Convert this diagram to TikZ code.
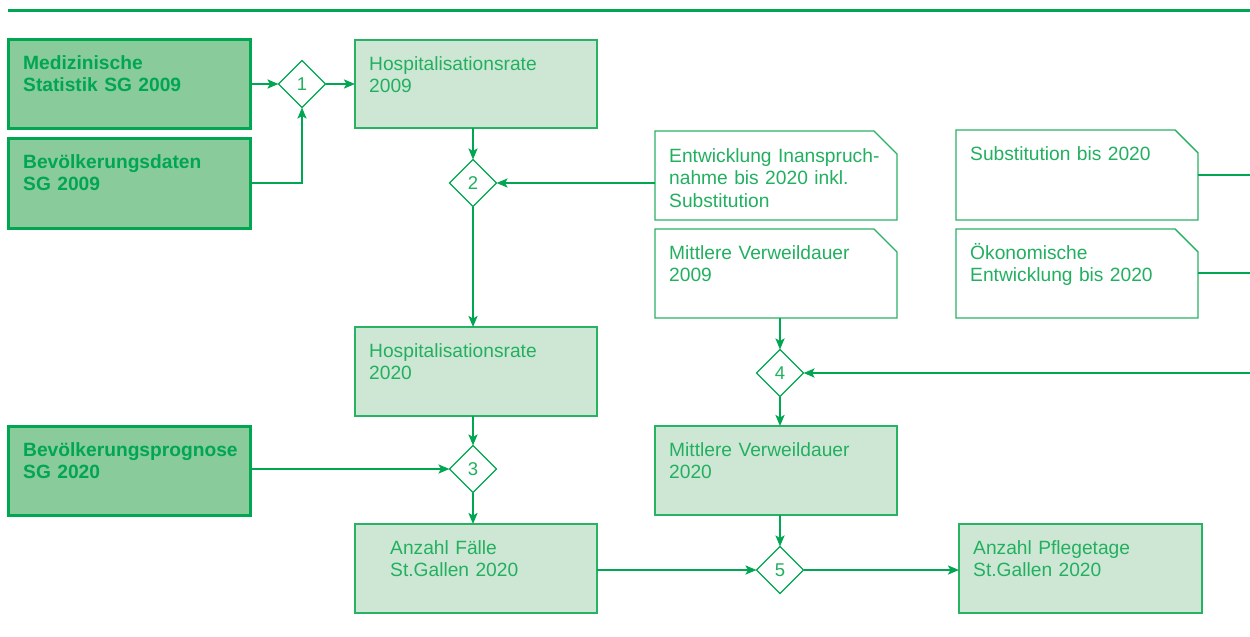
\documentclass[tikz,border=0pt]{standalone}
\usepackage{fontspec}
\setmainfont{Liberation Sans}
\usetikzlibrary{shapes.geometric,arrows.meta}
\definecolor{lgreen}{RGB}{0,166,81}
\definecolor{tgreen}{RGB}{34,176,96}
\definecolor{darkfill}{RGB}{138,203,156}
\definecolor{lightfill}{RGB}{206,231,212}
\definecolor{thinline}{RGB}{40,178,100}
\tikzset{
  boxbase/.style={minimum width=242pt,minimum height=89pt,inner sep=0pt,outer sep=0pt},
  darkbox/.style={boxbase,draw=lgreen,line width=3pt,fill=darkfill},
  lightbox/.style={boxbase,draw=thinline,line width=1.4pt,fill=lightfill},
  notebox/.style={boxbase},
  noteline/.style={draw=thinline,line width=1.4pt,fill=white},
  dia/.style={diamond,aspect=1,minimum size=47pt,inner sep=0pt,outer sep=0pt,draw=lgreen,line width=1.1pt,fill=white,text=tgreen,font=\fontsize{18.5pt}{20pt}\selectfont},
  txt/.style={anchor=base west,inner sep=0pt,text width=228pt,align=left,text=tgreen,font=\fontsize{19.2pt}{22.8pt}\selectfont},
  btxt/.style={txt,text=lgreen,font=\fontsize{19.2pt}{22.8pt}\selectfont\bfseries},
  conn/.style={draw=lgreen,line width=2.6pt},
  arr/.style={conn,-{Stealth[length=11pt,width=9pt,inset=2.5pt]}}
}
\begin{document}
\begin{tikzpicture}[x=1pt,y=-1pt]
\useasboundingbox (0,0) rectangle (1250,637);
% top rule
\coordinate (tl) at (8,10);
\coordinate (tr) at (1250,10);
\draw[lgreen,line width=3pt] (tl) -- (tr);

% dark input boxes
\node[darkbox] (med) at (129,83.5) {};
\node[darkbox,minimum height=90pt] (bev) at (129,183) {};
\node[darkbox] (prog) at (129,470.5) {};
\node[btxt] (tmed) at ([xshift=15pt,yshift=-30pt]med.north west) {Medizinische\\Statistik SG 2009};
\node[btxt] (tbev) at ([xshift=15pt,yshift=-30pt]bev.north west) {Bevölkerungsdaten\\SG 2009};
\node[btxt] (tprog) at ([xshift=15pt,yshift=-30pt]prog.north west) {Bevölkerungsprognose\\SG 2020};

% light result boxes
\node[lightbox,minimum height=88pt] (h09) at (476,84) {};
\node[lightbox] (h20) at (476,371.5) {};
\node[lightbox] (anz) at (476,568.5) {};
\node[lightbox] (mv20) at (776,470.5) {};
\node[lightbox,minimum width=243pt] (pfl) at (1080.5,568.5) {};
\node[txt] (th09) at ([xshift=14pt,yshift=-30pt]h09.north west) {Hospitalisationsrate\\2009};
\node[txt] (th20) at ([xshift=14pt,yshift=-30pt]h20.north west) {Hospitalisationsrate\\2020};
\node[txt] (tanz) at ([xshift=35pt,yshift=-30pt]anz.north west) {Anzahl Fälle\\St.Gallen 2020};
\node[txt] (tmv20) at ([xshift=14pt,yshift=-30pt]mv20.north west) {Mittlere Verweildauer\\2020};
\node[txt] (tpfl) at ([xshift=14pt,yshift=-30pt]pfl.north west) {Anzahl Pflegetage\\St.Gallen 2020};

% note boxes with chamfered corner
\node[notebox] (ent) at (776,175.5) {};
\node[notebox] (mv09) at (776,273.5) {};
\node[notebox,minimum height=90pt] (sub) at (1077,175) {};
\node[notebox] (oek) at (1077,273.5) {};
\foreach \n in {ent,mv09,sub,oek}{
  \path[noteline] (\n.south west) -- (\n.north west) -- ([xshift=-23pt]\n.north east)
    -- ([yshift=-23pt]\n.north east) -- (\n.south east) -- cycle;
}
\node[txt] (tent) at ([xshift=14pt,yshift=-31pt]ent.north west) {Entwicklung Inanspruch-\\nahme bis 2020 inkl.\\Substitution};
\node[txt] (tmv09) at ([xshift=14pt,yshift=-30pt]mv09.north west) {Mittlere Verweildauer\\2009};
\node[txt] (tsub) at ([xshift=14pt,yshift=-30pt]sub.north west) {Substitution bis 2020};
\node[txt] (toek) at ([xshift=14pt,yshift=-30pt]oek.north west) {Ökonomische\\Entwicklung bis 2020};

% diamonds
\node[dia] (d1) at (302,84) {1};
\node[dia] (d2) at (473,183) {2};
\node[dia] (d3) at (473,469) {3};
\node[dia] (d4) at (780,373) {4};
\node[dia] (d5) at (780,570) {5};

% free ends at the right border
\coordinate (r1) at (1250,175);
\coordinate (r2) at (1250,273);
\coordinate (r4) at (1250,373);

% connectors
\draw[arr] (med.east |- d1.west) -- (d1.west);
\draw[arr] (bev.east) -| (d1.south);
\draw[arr] (d1.east) -- (h09.west |- d1.east);
\draw[arr] (d2 |- h09.south) -- (d2.north);
\draw[arr] (ent.west |- d2.east) -- (d2.east);
\draw[arr] (d2.south) -- (d2 |- h20.north);
\draw[arr] (d3 |- h20.south) -- (d3.north);
\draw[arr] (prog.east |- d3.west) -- (d3.west);
\draw[arr] (d3.south) -- (d3 |- anz.north);
\draw[arr] (d4 |- mv09.south) -- (d4.north);
\draw[arr] (r4) -- (d4.east);
\draw[arr] (d4.south) -- (d4 |- mv20.north);
\draw[arr] (d5 |- mv20.south) -- (d5.north);
\draw[arr] (anz.east |- d5.west) -- (d5.west);
\draw[arr] (d5.east) -- (pfl.west |- d5.east);
\draw[conn] (sub.east |- r1) -- (r1);
\draw[conn] (oek.east |- r2) -- (r2);
\end{tikzpicture}
\end{document}
